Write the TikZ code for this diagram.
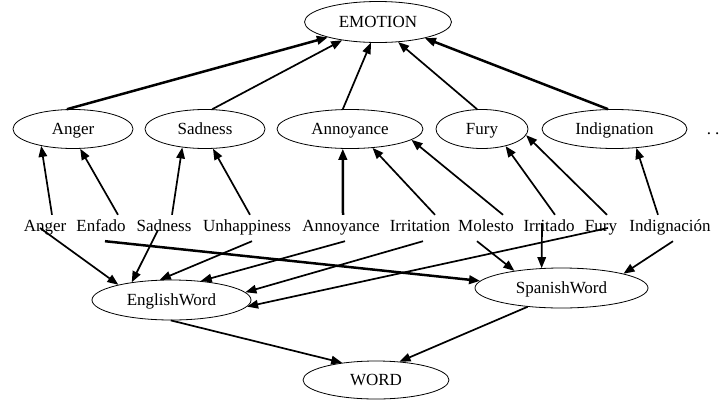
\documentclass[tikz,border=0pt]{standalone}
\usepackage{fontspec}
\setmainfont{Liberation Serif}
\usetikzlibrary{arrows.meta,shapes.geometric}
\begin{document}
\begin{tikzpicture}[x=1pt,y=-1pt,
  concept/.style={draw, ellipse, line width=0.8pt, inner sep=0pt, font=\fontsize{17}{20}\selectfont, text height=11pt, text depth=0pt},
  wordlbl/.style={inner xsep=0pt, inner ysep=4pt, font=\fontsize{17}{20}\selectfont, text height=12pt, text depth=6pt, anchor=base},
  link/.style={line width=1.7pt, -{Triangle[length=11pt,width=8.5pt]}},
  heavy/.style={link, line width=2.5pt}]
\useasboundingbox (0,0) rectangle (722,399);

% concepts
\node[concept, minimum width=147pt, minimum height=41pt] (emotion) at (378,22) {EMOTION};
\node[concept, minimum width=120pt, minimum height=39pt] (anger) at (73,129) {Anger};
\node[concept, minimum width=120pt, minimum height=39pt] (sadness) at (205,129) {Sadness};
\node[concept, minimum width=146pt, minimum height=39pt] (annoyance) at (350,129) {Annoyance};
\node[concept, minimum width=92pt, minimum height=39pt] (fury) at (482,129) {Fury};
\node[concept, minimum width=145pt, minimum height=39pt] (indignation) at (614.5,129) {Indignation};
\node[font=\fontsize{17}{20}\selectfont, anchor=base, inner sep=0pt] (more) at (713,134) {.\kern4pt.};

\node[concept, minimum width=159pt, minimum height=40pt] (english) at (171.5,300) {EnglishWord};
\node[concept, minimum width=173pt, minimum height=40pt] (spanish) at (561.5,288) {SpanishWord};
\node[concept, minimum width=146pt, minimum height=38pt] (wordnode) at (376,380) {WORD};

% words
\node[wordlbl] (w-anger) at (45,231) {Anger};
\node[wordlbl] (w-enfado) at (101,231) {Enfado};
\node[wordlbl] (w-sadness) at (164,231) {Sadness};
\node[wordlbl] (w-unhappiness) at (247,231) {Unhappiness};
\node[wordlbl] (w-annoyance) at (341,231) {Annoyance};
\node[wordlbl] (w-irritation) at (420,231) {Irritation};
\node[wordlbl] (w-molesto) at (486,231) {Molesto};
\node[wordlbl] (w-irritado) at (549,231) {Irritado};
\node[wordlbl] (w-fury) at (601,231) {Fury};
\node[wordlbl] (w-indignacion) at (670,231) {Indignación};

% concepts to EMOTION
\draw[heavy] (anger.107) -- (emotion.197);
\draw[link] (sadness.70) -- (emotion.207);
\draw[link] (annoyance.110) -- (emotion.251);
\draw[link] (fury.104) -- (emotion.315);
\draw[heavy] (indignation.108) -- (emotion.341);

% words to concepts
\draw[link] ([xshift=7pt]w-anger.north) -- (anger.208);
\draw[link] ([xshift=17pt]w-enfado.north) -- (anger.290);
\draw[link] ([xshift=8pt]w-sadness.north) -- (sadness.219);
\draw[link] ([xshift=3pt]w-unhappiness.north) -- (sadness.292);
\draw[heavy] ([xshift=2pt]w-annoyance.north) -- (annoyance.250);
\draw[link] ([xshift=15pt]w-irritation.north) -- (annoyance.320);
\draw[link] ([xshift=17pt]w-molesto.north) -- (annoyance.350);
\draw[link] ([xshift=6pt]w-irritado.north) -- (fury.324);
\draw[link] ([xshift=6pt]w-fury.north) -- (fury.352);
\draw[link] ([xshift=-12pt]w-indignacion.north) -- (indignation.319);

% words to language classes
\draw[link] ([xshift=-5pt,yshift=3pt]w-anger.base) -- (english.164);
\draw[heavy] ([xshift=4pt]w-enfado.south) -- (spanish.175);
\draw[link] ([xshift=-6pt,yshift=1pt]w-sadness.base) -- (english.156);
\draw[link] ([xshift=5pt]w-unhappiness.south) -- (english.120);
\draw[link] ([xshift=4pt]w-annoyance.south) -- (english.33);
\draw[link] ([xshift=3pt]w-irritation.south) -- (english.6);
\draw[link] ([xshift=7pt,yshift=3pt]w-fury.base) -- (english.355);
\draw[link] ([xshift=-9pt]w-molesto.south) -- (spanish.160);
\draw[link] ([xshift=-7pt,yshift=8pt]w-irritado.base) -- (spanish.135);
\draw[link] ([xshift=3pt]w-indignacion.south) -- (spanish.13);

% language classes to WORD
\draw[link] (english.268) -- (wordnode.153);
\draw[link] (spanish.209) -- (wordnode.38);
\end{tikzpicture}
\end{document}
